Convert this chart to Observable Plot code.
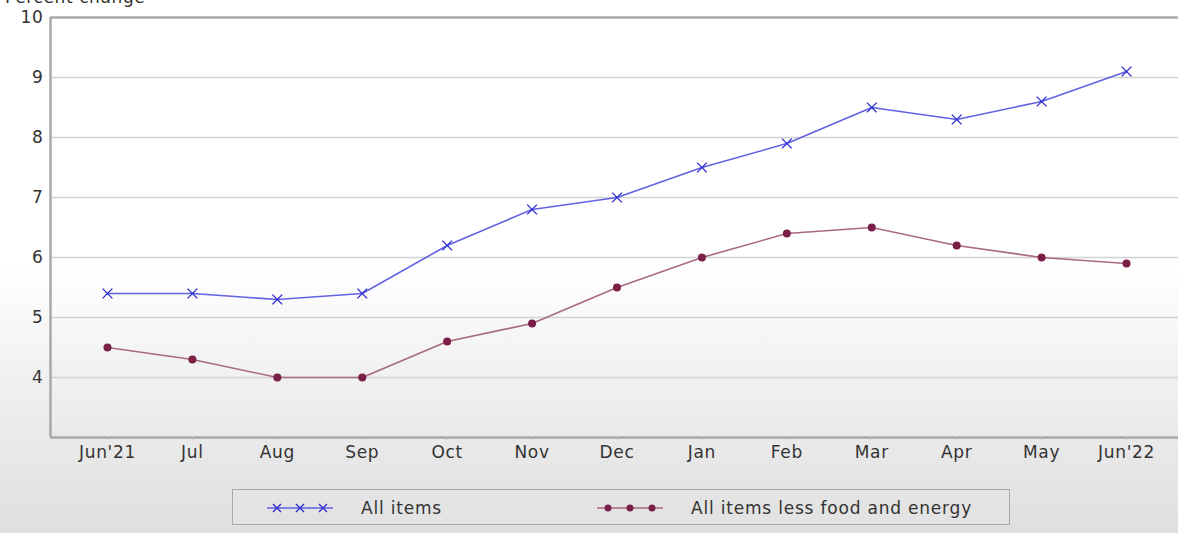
<!DOCTYPE html>
<html>
<head>
<meta charset="utf-8">
<script src="https://cdn.jsdelivr.net/npm/d3@7"></script>
<script src="https://cdn.jsdelivr.net/npm/@observablehq/plot@0.6"></script>
<style>
  html, body { margin: 0; padding: 0; }
  body {
    width: 1178px; height: 533px; overflow: hidden; position: relative;
    background: linear-gradient(to bottom, #ffffff 0%, #ffffff 50%, #f1f1f1 70%, #dfdfdf 100%);
    font-family: "DejaVu Sans", sans-serif; color: #333;
  }
  #ytitle { position: absolute; left: 5px; top: -13px; font-size: 17px; letter-spacing: 0.6px; color: #333; }
  #chart { position: absolute; left: 0; top: 0; }
  #chart text { letter-spacing: 0.7px; }
  #legend {
    position: absolute; left: 232px; top: 489px; width: 778px; height: 36px;
    border: 1px solid #a8a8a8; box-sizing: border-box; background: rgba(228,228,228,0.6);
    font-size: 17px; letter-spacing: 0.8px; color: #333;
  }
  .item { position: absolute; top: 1px; height: 34px; display: flex; align-items: center; }
  .item svg { margin-right: 28px; }
</style>
</head>
<body>
<div id="chart"></div>
<div id="ytitle">Percent change</div>
<div id="legend"></div>
<script>
const months = ["Jun'21","Jul","Aug","Sep","Oct","Nov","Dec","Jan","Feb","Mar","Apr","May","Jun'22"];
const allItems = [5.4, 5.4, 5.3, 5.4, 6.2, 6.8, 7.0, 7.5, 7.9, 8.5, 8.3, 8.6, 9.1];
const coreItems = [4.5, 4.3, 4.0, 4.0, 4.6, 4.9, 5.5, 6.0, 6.4, 6.5, 6.2, 6.0, 5.9];
const yTicks = [4, 5, 6, 7, 8, 9, 10];
const seriesNames = ["All items", "All items less food and energy"];

const blueLine = "#6262e2", blueMark = "#2e2ed2";
const coreLine = "#a86a7c", coreMark = "#7a1f48";

const allData = months.map((m, i) => ({i, v: allItems[i]}));
const coreData = months.map((m, i) => ({i, v: coreItems[i]}));
const xDomain = [-0.671, 12.612];

const chart = Plot.plot({
  width: 1178, height: 470,
  marginLeft: 50, marginRight: 0, marginTop: 17, marginBottom: 33,
  style: {background: "transparent", fontFamily: "DejaVu Sans, sans-serif", fontSize: "17px", color: "#333"},
  x: {domain: xDomain, label: null},
  y: {domain: [3, 10], label: null},
  marks: [
    Plot.ruleY(yTicks.slice(0, -1), {stroke: "#d2d2d2", strokeWidth: 1.6}),
    Plot.ruleY([3, 10], {stroke: "#a9a9a9", strokeWidth: 2.5}),
    Plot.ruleX([xDomain[0]], {stroke: "#a9a9a9", strokeWidth: 2.5}),
    Plot.axisX({ticks: d3.range(months.length), tickFormat: i => months[i], tickSize: 3, tickPadding: 5, stroke: "#bbb", fill: "#333", fontSize: 17}),
    Plot.axisY({ticks: yTicks, tickFormat: d => String(d), tickSize: 0, tickPadding: 7, fill: "#333", fontSize: 17}),
    Plot.line(coreData, {x: "i", y: "v", stroke: coreLine, strokeWidth: 1.6}),
    Plot.dot(coreData, {x: "i", y: "v", fill: coreMark, r: 4}),
    Plot.line(allData, {x: "i", y: "v", stroke: blueLine, strokeWidth: 1.6}),
    Plot.dot(allData, {x: "i", y: "v", symbol: "times", stroke: blueMark, strokeWidth: 1.4, r: 4.5})
  ]
});
document.getElementById("chart").appendChild(chart);

const legend = document.getElementById("legend");
legend.innerHTML = `
  <div class="item" style="left:34px">
    <svg width="66" height="14"><line x1="0" y1="7" x2="66" y2="7" stroke="${blueLine}" stroke-width="1.6"/>
      ${[10,33,56].map(x => `<path d="M${x-4},3L${x+4},11M${x-4},11L${x+4},3" stroke="${blueMark}" stroke-width="1.4"/>`).join("")}
    </svg><span>${seriesNames[0]}</span></div>
  <div class="item" style="left:364px">
    <svg width="66" height="14"><line x1="0" y1="7" x2="66" y2="7" stroke="${coreLine}" stroke-width="1.6"/>
      ${[11,33,55].map(x => `<circle cx="${x}" cy="7" r="3.5" fill="${coreMark}"/>`).join("")}
    </svg><span>${seriesNames[1]}</span></div>`;
</script>
</body>
</html>
